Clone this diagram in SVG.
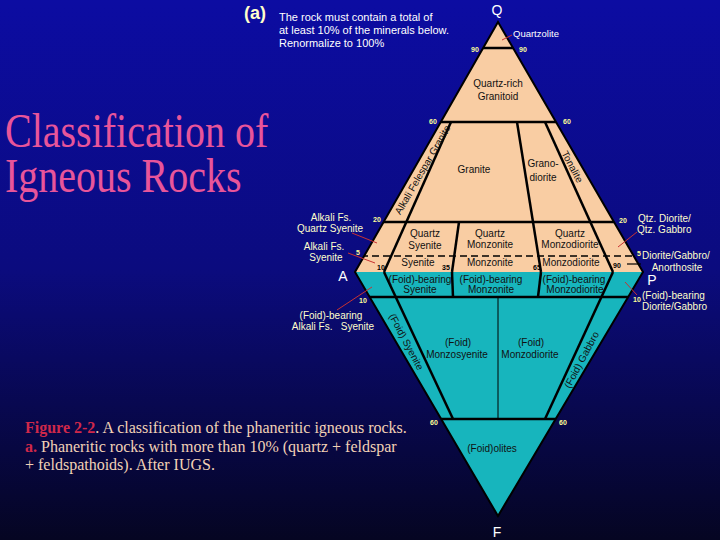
<svg xmlns="http://www.w3.org/2000/svg" width="720" height="540" viewBox="0 0 720 540">
<defs>
<linearGradient id="bg" x1="0" y1="0" x2="0" y2="1">
<stop offset="0" stop-color="#0c0ca2"/>
<stop offset="0.5" stop-color="#0b0b7e"/>
<stop offset="1" stop-color="#050522"/>
</linearGradient>
<clipPath id="dia"><polygon points="498,22 643,272 498,516 355,272"/></clipPath>
<style>
.lbl{font-family:"Liberation Sans",Arial,sans-serif;font-size:10px;fill:#111;text-anchor:middle}
.side{font-family:"Liberation Sans",Arial,sans-serif;font-size:10px;fill:#ffffcc}
.num{font-family:"Liberation Sans",Arial,sans-serif;font-size:7px;font-weight:bold;fill:#ffff99}
.numk{font-family:"Liberation Sans",Arial,sans-serif;font-size:7px;font-weight:bold;fill:#000}
.apex{font-family:"Liberation Sans",Arial,sans-serif;font-size:14px;fill:#fff;text-anchor:middle}
.bl{stroke:#000;stroke-width:2.5;fill:none}
.lead{stroke:#c83232;stroke-width:1;fill:none}
.cap{font-family:"Liberation Serif","Times New Roman",serif;font-size:16px;fill:#f2d2b6}
.capr{fill:#d0284a;font-weight:bold}
.ttl{font-family:"Liberation Serif","Times New Roman",serif;font-size:40px;fill:#e8559a}
</style>
</defs>
<rect x="0" y="0" width="720" height="540" fill="url(#bg)"/>

<g id="title">
<text class="ttl" transform="translate(5,147) scale(1,1.22)">Classification of</text>
<text class="ttl" transform="translate(5,192) scale(1,1.22)">Igneous Rocks</text>
</g>

<g id="note">
<text x="244" y="19" font-family="'Liberation Sans',Arial,sans-serif" font-size="18" font-weight="bold" fill="#ffffcc">(a)</text>
<text x="279" y="21" font-family="'Liberation Sans',Arial,sans-serif" font-size="11" fill="#ffffff">The rock must contain a  total of</text>
<text x="279" y="34" font-family="'Liberation Sans',Arial,sans-serif" font-size="11" fill="#ffffff">at least 10% of the minerals below.</text>
<text x="279" y="47" font-family="'Liberation Sans',Arial,sans-serif" font-size="11" fill="#ffffff">Renormalize to 100%</text>
</g>

<g id="QAP-triangle">
<polygon points="498,22 643,272 355,272" fill="#f9cda3"/>
</g>
<g id="APF-triangle">
<polygon points="355,272 643,272 498,516" fill="#17b5bd"/>
</g>

<g id="connectors">
<g clip-path="url(#dia)">
<line class="bl" x1="460" y1="48" x2="540" y2="48"/>
<line class="bl" x1="420" y1="122" x2="580" y2="122"/>
<line class="bl" x1="360" y1="222" x2="640" y2="222"/>
<line x1="350" y1="256" x2="650" y2="256" stroke="#000" stroke-width="1.5" stroke-dasharray="7,4"/>
<line class="bl" x1="350" y1="297" x2="650" y2="297"/>
<line class="bl" x1="420" y1="419" x2="580" y2="419"/>
</g>
<line class="bl" x1="384" y1="272" x2="451" y2="122"/>
<line class="bl" x1="541" y1="272" x2="517" y2="122"/>
<line class="bl" x1="613" y1="272" x2="545" y2="122"/>
<line class="bl" x1="452" y1="272" x2="459" y2="222"/>
<line class="bl" x1="384" y1="272" x2="453" y2="419"/>
<line class="bl" x1="452" y1="272" x2="453" y2="297"/>
<line class="bl" x1="541" y1="272" x2="538" y2="297"/>
<line class="bl" x1="613" y1="272" x2="545" y2="419"/>
<line x1="498" y1="297" x2="498" y2="419" stroke="#000" stroke-width="1"/>
<polygon points="498,22 643,272 498,516 355,272" fill="none" stroke="#000" stroke-width="2"/>
<line class="lead" x1="502" y1="40" x2="512" y2="35"/>
<line class="lead" x1="352" y1="233" x2="377" y2="243"/>
<line class="lead" x1="348" y1="253" x2="375" y2="263"/>
<line class="lead" x1="337" y1="310" x2="372" y2="287"/>
<line class="lead" x1="618" y1="247" x2="637" y2="232"/>
<line x1="627" y1="264" x2="641" y2="264" stroke="#000" stroke-width="1.2"/>
<line class="lead" x1="625" y1="282" x2="637" y2="295"/>
</g>

<g id="apices">
<text class="apex" x="497" y="15">Q</text>
<text class="apex" x="343" y="281">A</text>
<text class="apex" x="652" y="285">P</text>
<text class="apex" x="497" y="537" font-size="15">F</text>
</g>

<g id="numbers">
<text class="num" x="471" y="52">90</text>
<text class="num" x="519" y="52">90</text>
<text class="num" x="429" y="124">60</text>
<text class="num" x="563" y="124">60</text>
<text class="num" x="373" y="222">20</text>
<text class="num" x="619" y="223">20</text>
<text class="num" x="356" y="255">5</text>
<text class="num" x="637" y="256">5</text>
<text class="numk" x="377" y="270">10</text>
<text class="numk" x="442" y="270">35</text>
<text class="numk" x="533" y="270">65</text>
<text class="numk" x="613" y="268">90</text>
<text class="num" x="359" y="303">10</text>
<text class="num" x="633" y="302">10</text>
<text class="num" x="430" y="425">60</text>
<text class="num" x="559" y="425">60</text>
</g>

<g id="quartzolite"><text x="513" y="37" font-family="'Liberation Sans',Arial,sans-serif" font-size="9.5" fill="#ffffff">Quartzolite</text></g>
<g id="quartz-rich-granitoid"><text class="lbl" x="498" y="87">Quartz-rich</text><text class="lbl" x="498" y="100">Granitoid</text></g>
<g id="alkali-feldspar-granite"><text class="lbl" transform="translate(423,170) rotate(-60)" y="3">Alkali Felespar Granite</text></g>
<g id="granite"><text class="lbl" x="474" y="173">Granite</text></g>
<g id="granodiorite"><text class="lbl" x="543" y="167">Grano-</text><text class="lbl" x="543" y="181">diorite</text></g>
<g id="tonalite"><text class="lbl" transform="translate(572,167) rotate(62)" y="3">Tonalite</text></g>

<g id="alkali-fs-quartz-syenite"><text class="side" x="331" y="221" text-anchor="middle">Alkali Fs.</text><text class="side" x="330" y="232" text-anchor="middle">Quartz Syenite</text></g>
<g id="alkali-fs-syenite"><text class="side" x="324" y="250" text-anchor="middle">Alkali Fs.</text><text class="side" x="326" y="261" text-anchor="middle">Syenite</text></g>
<g id="quartz-syenite"><text class="lbl" x="425" y="237">Quartz</text><text class="lbl" x="425" y="249">Syenite</text></g>
<g id="quartz-monzonite"><text class="lbl" x="490" y="237">Quartz</text><text class="lbl" x="490" y="248">Monzonite</text></g>
<g id="quartz-monzodiorite"><text class="lbl" x="570" y="237">Quartz</text><text class="lbl" x="570" y="248">Monzodiorite</text></g>
<g id="qtz-diorite"><text class="side" x="638" y="222">Qtz. Diorite/</text><text class="side" x="637" y="233">Qtz. Gabbro</text></g>
<g id="syenite"><text class="lbl" x="418" y="266">Syenite</text></g>
<g id="monzonite"><text class="lbl" x="490" y="266">Monzonite</text></g>
<g id="monzodiorite"><text class="lbl" x="571" y="266">Monzodiorite</text></g>
<g id="diorite-gabbro"><text class="side" x="642" y="259">Diorite/Gabbro/</text><text class="side" x="677" y="271" text-anchor="middle">Anorthosite</text></g>

<g id="foid-bearing-alkali-fs-syenite"><text class="side" x="331" y="319" text-anchor="middle">(Foid)-bearing</text><text class="side" x="333" y="330" text-anchor="middle" xml:space="preserve">Alkali Fs.   Syenite</text></g>
<g id="foid-bearing-syenite"><text class="lbl" x="420" y="283">(Foid)-bearing</text><text class="lbl" x="420" y="293">Syenite</text></g>
<g id="foid-bearing-monzonite"><text class="lbl" x="491" y="283">(Foid)-bearing</text><text class="lbl" x="491" y="293">Monzonite</text></g>
<g id="foid-bearing-monzodiorite"><text class="lbl" x="574" y="283">(Foid)-bearing</text><text class="lbl" x="575" y="293">Monzodiorite</text></g>
<g id="foid-bearing-diorite"><text class="side" x="642" y="299">(Foid)-bearing</text><text class="side" x="642" y="310">Diorite/Gabbro</text></g>

<g id="foid-syenite"><text class="lbl" transform="translate(406,342) rotate(62)" y="3">(Foid) Syenite</text></g>
<g id="foid-monzosyenite"><text class="lbl" x="458" y="346">(Foid)</text><text class="lbl" x="457" y="358">Monzosyenite</text></g>
<g id="foid-monzodiorite"><text class="lbl" x="531" y="346">(Foid)</text><text class="lbl" x="530" y="358">Monzodiorite</text></g>
<g id="foid-gabbro"><text class="lbl" transform="translate(582,360) rotate(-62)" y="3">(Foid) Gabbro</text></g>
<g id="foidolites"><text class="lbl" x="492" y="452">(Foid)olites</text></g>

<g id="caption">
<text class="cap" x="25" y="433"><tspan class="capr">Figure 2-2</tspan>. A classification of the phaneritic igneous rocks.</text>
<text class="cap" x="25" y="452"><tspan class="capr">a.</tspan> Phaneritic rocks with more than 10% (quartz + feldspar</text>
<text class="cap" x="25" y="470">+ feldspathoids). After IUGS.</text>
</g>
</svg>
